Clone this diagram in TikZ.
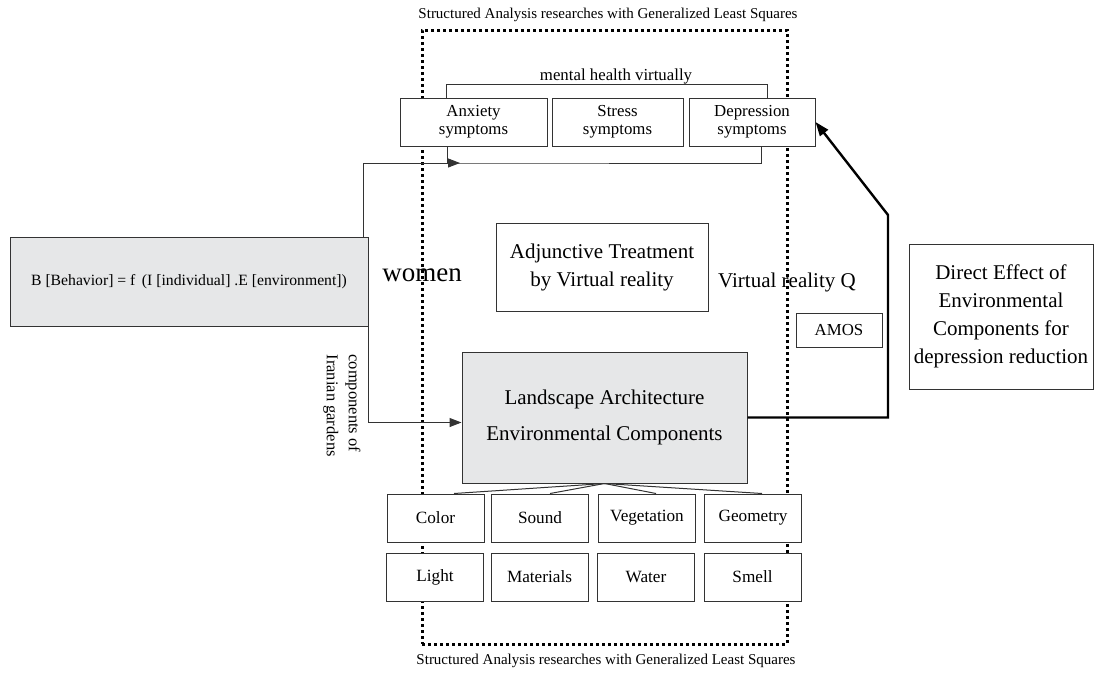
\documentclass[tikz,border=0pt]{standalone}
\usepackage{fontspec}
\setmainfont{Liberation Serif}
\usepackage{xcolor}
\usetikzlibrary{arrows.meta, positioning}
\definecolor{boxgrey}{HTML}{E6E7E8}

\begin{document}
\begin{tikzpicture}[x=1pt, y=-1pt,
    box/.style={draw=black!80, fill=white, line width=1pt, inner sep=0pt, align=center},
    greybox/.style={box, fill=boxgrey},
    small/.style={font=\fontsize{16.8}{18}\selectfont},
    big/.style={font=\fontsize{21}{28}\selectfont},
    link/.style={draw=black!80, line width=1pt, -{Triangle[length=12pt, width=9pt]}},
    thicklink/.style={line width=2.4pt, -{Triangle[length=14pt, width=10pt]}}]
    \useasboundingbox (0,0) rectangle (1094,672);
    % dotted frame with its two titles
    \node (frame) at (604.5,337) [draw, line width=3pt, dash pattern=on 3pt off 3pt,
        minimum width=365pt, minimum height=614pt] {};
    \node (ttop) at (608,15) [font=\fontsize{15}{16}\selectfont]
        {Structured Analysis researches with Generalized Least Squares};
    \node (tbot) at (606,661) [font=\fontsize{15}{16}\selectfont]
        {Structured Analysis researches with Generalized Least Squares};
    % symptoms
    \node (anx) at (473.5,122) [box, small, minimum width=147pt, minimum height=48pt] {Anxiety\\symptoms};
    \node (str) at (617.5,122) [box, small, minimum width=131pt, minimum height=48pt] {Stress\\symptoms};
    \node (dep) at (752,122) [box, small, minimum width=126pt, minimum height=48pt] {Depression\\symptoms};
    \draw[line width=1pt, draw=black!80] ([xshift=47pt]anx.north west) -- ++(0,-13)
        -| ([xshift=-48pt]dep.north east);
    \node (mh) at (616,76) [small] {mental health virtually};
    \coordinate (mhin) at (460,163);
    \draw[line width=1pt, draw=black!80] ([xshift=48pt]anx.south west) |- (mhin)
        -| ([xshift=-54pt]dep.south east);
    % behavior formula
    \node (bbox) at (189,281.5) [greybox, font=\fontsize{15.7}{18}\selectfont,
        minimum width=358pt, minimum height=89pt]
        {B [Behavior] = f \,(I [individual] .E [environment])};
    \draw[link] ([xshift=-5pt]bbox.north east) |- (mhin);
    % centre
    \node (women) at (422,275) [font=\fontsize{27}{30}\selectfont] {women};
    \node (adj) at (602,267) [box, big, minimum width=212pt, minimum height=88pt]
        {Adjunctive Treatment\\by Virtual reality};
    \node (vrq) at (787,282) [big] {Virtual reality Q};
    \node (amos) at (839,330) [box, small, minimum width=86pt, minimum height=34pt] {AMOS};
    \node (direct) at (1001,316.5) [box, big, minimum width=184pt, minimum height=145pt]
        {Direct Effect of\\Environmental\\Components for\\depression reduction};
    % landscape components
    \node (land) at (604.5,417.5) [greybox, font=\fontsize{21}{36}\selectfont,
        minimum width=285pt, minimum height=131pt] {Landscape Architecture\\Environmental Components};
    \draw[link] (bbox.south east) |- ([yshift=-5pt]land.west);
    \node (comp) at (364,351) [anchor=north west, rotate=-90, align=left,
        font=\fontsize{16.5}{22}\selectfont] {components of\\Iranian gardens};
    \coordinate (bend) at (888,215);
    \draw[thicklink] (land.east) -| (bend) -- (dep.east);
    \foreach \n/\t/\x/\y in {color/Color/435.5/518, sound/Sound/540/518,
                             veg/Vegetation/647/518, geo/Geometry/753/518,
                             light/Light/435/577, mat/Materials/539.5/577,
                             water/Water/646/577, smell/Smell/752.5/577} {
        \node (\n) at (\x,\y) [box, font=\fontsize{17.2}{18}\selectfont,
            minimum width=97pt, minimum height=48pt] {\t};
    }
    \foreach \n/\s in {color/18.5, sound/10, veg/9, geo/9} {
        \draw[line width=1pt, draw=black!80] (land.south) -- ([xshift=\s pt]\n.north);
    }
\end{tikzpicture}
\end{document}
